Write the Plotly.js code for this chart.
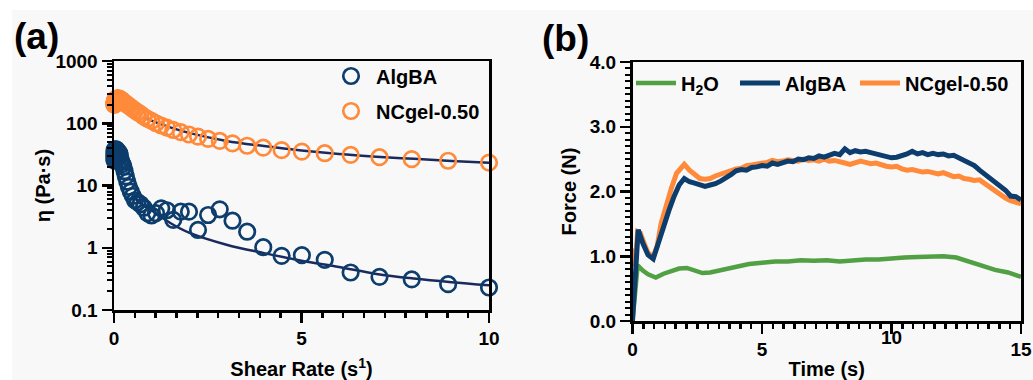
<!DOCTYPE html>
<html>
<head>
<meta charset="utf-8">
<script src="https://cdn.plot.ly/plotly-3.0.1.min.js"></script>
<style>html,body{margin:0;padding:0;background:#f8f8f8;}#chart{width:1033px;height:380px;}</style>
</head>
<body>
<div id="chart"></div>
<script>
// ---------- Panel (a): viscosity vs shear rate ----------
const shearRate = [0.01,0.0112,0.0126,0.0141,0.0158,0.0178,0.02,0.0224,0.0251,0.0282,0.0316,0.0355,0.0398,0.0447,0.0501,0.0562,0.0631,0.0708,0.0794,0.0891,
  0.1,0.112,0.126,0.141,0.158,0.178,0.2,0.224,0.251,0.282,0.316,0.355,0.398,0.447,0.501,0.562,0.631,0.708,0.794,0.891,
  1.0,1.12,1.26,1.41,1.58,1.78,2.0,2.24,2.51,2.82,3.16,3.55,3.98,4.47,5.01,5.62,6.31,7.08,7.94,8.91,10.0];
const etaAlgBA = [30,26,34,28,37,32,25,35,30,38,27,33,36,29,34,31,38,26,33,36,
  30,35,28,33,30,26,24,22,20,17,14,11.5,9.5,8.0,6.8,5.8,5.4,5.0,4.4,3.6,
  3.3,3.6,4.3,4.0,2.8,3.8,3.8,1.93,3.36,4.14,2.72,1.81,1.02,0.74,0.76,0.64,0.40,0.34,0.31,0.26,0.23];
const etaNCgel = [200,205,198,210,215,208,220,225,218,230,235,228,238,242,236,245,248,244,250,248,
  250,252,250,248,245,240,236,228,221,214,207,198,190,180,170,160,150,140,128,118,
  109,100,92,85,78,72,66,61,56,52,47.5,43.5,40.5,37,35,33,31,28.5,26.5,25,23.3];
const fitRateAlgBA = [0.5,0.7,1.0,1.5,2.0,3.0,4.0,5.0,6.0,7.0,8.0,9.0,10.0];
const fitEtaAlgBA  = [7.0,5.2,4.0,2.5,1.75,1.12,0.82,0.62,0.49,0.38,0.32,0.28,0.25];
const fitRateNCgel = [0.8,1.0,1.5,2.0,3.0,4.0,5.0,6.0,7.0,8.0,9.0,10.0];
const fitEtaNCgel  = [125,110,86,70,52,43,36.5,32,29,26.8,24.8,23.3];
const xTicksA = [0,5,10];
const yTicksA = [0.1,1,10,100,1000];
const yTickTextA = ['0.1','1','10','100','1000'];

// ---------- Panel (b): force vs time ----------
const timeH2O = [0,0.1,0.2,0.4,0.6,0.9,1.2,1.5,1.8,2.1,2.4,2.7,3.0,3.5,4.0,4.5,5.0,5.5,6.0,6.5,7.0,7.5,8.0,8.5,9.0,9.5,10.0,10.5,11.0,11.5,12.0,12.5,13.0,13.5,14.0,14.5,15.0];
const forceH2O = [0,0.5,0.86,0.78,0.72,0.67,0.73,0.77,0.81,0.82,0.78,0.74,0.75,0.79,0.84,0.88,0.9,0.92,0.92,0.94,0.93,0.94,0.92,0.94,0.95,0.95,0.97,0.98,0.99,0.99,1.0,0.98,0.92,0.85,0.79,0.75,0.68];
const timeAlgBA = [0,0.05,0.15,0.22,0.4,0.6,0.8,1.0,1.2,1.4,1.6,1.8,2.0,
  2.2,2.4,2.6,2.8,3.0,3.2,3.4,3.6,3.8,4.0,4.2,4.4,4.6,4.8,5.0,5.2,5.4,5.6,5.8,6.0,6.2,6.4,6.6,6.8,7.0,7.2,7.4,7.6,7.8,8.0,
  8.2,8.4,8.6,8.8,9.0,9.2,9.4,9.6,9.8,10.0,10.2,10.4,10.6,10.8,11.0,11.2,11.4,11.6,11.8,12.0,12.2,12.4,12.6,12.8,13.0,
  13.2,13.4,13.6,13.8,14.0,14.2,14.4,14.6,14.8,15.0];
const forceAlgBA = [0,0.4,1.2,1.41,1.2,1.02,0.96,1.22,1.5,1.7,1.92,2.1,2.2,
  2.15,2.13,2.1,2.08,2.1,2.12,2.16,2.2,2.26,2.32,2.34,2.33,2.37,2.38,2.4,2.39,2.44,2.42,2.45,2.47,2.46,2.5,2.49,2.52,2.51,2.55,2.53,2.57,2.59,2.57,
  2.66,2.6,2.63,2.61,2.62,2.6,2.58,2.57,2.54,2.52,2.53,2.55,2.58,2.62,2.58,2.6,2.57,2.59,2.57,2.58,2.55,2.56,2.52,2.49,2.45,
  2.4,2.33,2.27,2.2,2.15,2.1,2.02,1.93,1.92,1.87];
const timeNCgel = [0.03,0.1,0.2,0.3,0.45,0.6,0.8,0.95,1.1,1.3,1.5,1.7,1.9,2.0,
  2.2,2.4,2.6,2.8,3.0,3.2,3.4,3.6,3.8,4.0,4.2,4.4,4.6,4.8,5.0,5.2,5.4,5.6,5.8,6.0,6.2,6.4,6.6,6.8,7.0,7.2,7.4,7.6,7.8,8.0,
  8.2,8.4,8.6,8.8,9.0,9.2,9.4,9.6,9.8,10.0,10.2,10.4,10.6,10.8,11.0,11.2,11.4,11.6,11.8,12.0,12.2,12.4,12.6,12.8,13.0,
  13.2,13.4,13.6,13.8,14.0,14.2,14.4,14.6,14.8,15.0];
const forceNCgel = [1.12,0.85,1.38,1.36,1.2,1.05,1.0,1.15,1.5,1.8,2.05,2.28,2.37,2.42,
  2.33,2.26,2.2,2.19,2.2,2.24,2.27,2.29,2.32,2.35,2.36,2.4,2.41,2.42,2.44,2.45,2.48,2.46,2.47,2.49,2.48,2.47,2.5,2.48,2.49,2.47,2.5,2.47,2.48,2.45,
  2.44,2.42,2.44,2.47,2.45,2.43,2.44,2.41,2.39,2.38,2.39,2.35,2.33,2.34,2.31,2.3,2.31,2.28,2.27,2.29,2.25,2.23,2.24,2.2,2.19,
  2.17,2.18,2.12,2.06,2.0,1.95,1.9,1.86,1.83,1.81];
const xTicksB = [0,5,10,15];
const xTickTextB = ['0','5','','15'];
const yTicksB = [0,1,2,3,4];
const yTickTextB = ['0.0','1.0','2.0','3.0','4.0'];

// ---------- styling ----------
const W = 1033, H = 380;
const BLUE = '#0c3d6c', ORANGE = '#ff8a3a', GREEN = '#51a043', FIT = '#1b2a5c';
const FONT = 'Liberation Sans, Arial, Helvetica, sans-serif';

const traces = [
  {x: fitRateNCgel, y: fitEtaNCgel, xaxis:'x', yaxis:'y', mode:'lines', line:{color:FIT, width:2.5, shape:'spline'}, showlegend:false, hoverinfo:'skip'},
  {x: fitRateAlgBA, y: fitEtaAlgBA, xaxis:'x', yaxis:'y', mode:'lines', line:{color:FIT, width:2.5, shape:'spline'}, showlegend:false, hoverinfo:'skip'},
  {x: shearRate, y: etaAlgBA, xaxis:'x', yaxis:'y', mode:'markers', name:'AlgBA', legend:'legend', cliponaxis:false,
   marker:{symbol:'circle-open', size:15.5, color:BLUE, line:{width:2.7, color:BLUE}}},
  {x: shearRate, y: etaNCgel, xaxis:'x', yaxis:'y', mode:'markers', name:'NCgel-0.50', legend:'legend2', cliponaxis:false,
   marker:{symbol:'circle-open', size:15.5, color:ORANGE, line:{width:2.7, color:ORANGE}}},
  {x: timeH2O, y: forceH2O, xaxis:'x2', yaxis:'y2', mode:'lines', name:'H<sub>2</sub>O', legend:'legend3', line:{color:GREEN, width:4.5}},
  {x: timeNCgel, y: forceNCgel, xaxis:'x2', yaxis:'y2', mode:'lines', name:'NCgel-0.50', legend:'legend5', line:{color:ORANGE, width:5}},
  {x: timeAlgBA, y: forceAlgBA, xaxis:'x2', yaxis:'y2', mode:'lines', name:'AlgBA', legend:'legend4', line:{color:BLUE, width:5}}
];

const axisCommon = {
  showline:true, linecolor:'#000', linewidth:2.5, mirror:true,
  ticks:'outside', ticklen:10, tickwidth:2.5, tickcolor:'#000',
  showgrid:false, zeroline:false,
  tickfont:{family:FONT, size:19, color:'#000', weight:700}
};
const legendCommon = {bgcolor:'rgba(0,0,0,0)', borderwidth:0, xanchor:'left', yanchor:'middle', itemwidth:40,
  font:{family:FONT, size:20, color:'#000', weight:700}};

const layout = {
  width:W, height:H,
  margin:{l:0, r:0, t:0, b:0},
  paper_bgcolor:'#f8f8f8', plot_bgcolor:'rgba(0,0,0,0)',
  font:{family:FONT, size:19, color:'#000', weight:700},
  xaxis: Object.assign({}, axisCommon, {
    domain:[114/W, 489/W], range:[0,10], anchor:'y',
    tickmode:'array', tickvals:xTicksA,
    minor:{dtick:5/9, tick0:0, ticks:'outside', ticklen:5, tickwidth:2.5, tickcolor:'#000', showgrid:false},
    title:{text:'Shear Rate (s<sup>1</sup>)', font:{family:FONT, size:20, color:'#000', weight:700}, standoff:19}
  }),
  yaxis: Object.assign({}, axisCommon, {
    domain:[70/H, 319/H], type:'log', range:[-1,3], anchor:'x',
    tickmode:'array', tickvals:yTicksA, ticktext:yTickTextA,
    minor:{dtick:'D1', ticks:'outside', ticklen:5, tickwidth:2, tickcolor:'#000', showgrid:false},
    title:{text:'η (Pa·s)', font:{family:FONT, size:20, color:'#000', weight:700}, standoff:0}
  }),
  xaxis2: Object.assign({}, axisCommon, {
    domain:[632.5/W, 1021/W], range:[0,15], anchor:'y2',
    tickmode:'array', tickvals:xTicksB, ticktext:xTickTextB,
    minor:{dtick:5/12, tick0:0, ticks:'outside', ticklen:5, tickwidth:2.5, tickcolor:'#000', showgrid:false},
    title:{text:'Time (s)', font:{family:FONT, size:20, color:'#000', weight:700}, standoff:3}
  }),
  yaxis2: Object.assign({}, axisCommon, {
    domain:[59/H, 318/H], range:[0,4], anchor:'x2',
    tickmode:'array', tickvals:yTicksB, ticktext:yTickTextB,
    minor:{dtick:0.1, tick0:0, ticks:'outside', ticklen:5, tickwidth:2, tickcolor:'#000', showgrid:false},
    title:{text:'Force (N)', font:{family:FONT, size:20, color:'#000', weight:700}, standoff:8}
  }),
  legend:  Object.assign({}, legendCommon, {x:326/W, y:1-76/H}),
  legend2: Object.assign({}, legendCommon, {x:326/W, y:1-111/H}),
  legend3: Object.assign({}, legendCommon, {x:631/W, y:1-83/H}),
  legend4: Object.assign({}, legendCommon, {x:735/W, y:1-83/H}),
  legend5: Object.assign({}, legendCommon, {x:855/W, y:1-83/H}),
  shapes:[
    {type:'rect', xref:'paper', yref:'paper', x0:0, x1:1, y0:1-10/H, y1:1, fillcolor:'#ffffff', line:{width:0}, layer:'below'},
    {type:'rect', xref:'paper', yref:'paper', x0:0, x1:12/W, y0:0, y1:1, fillcolor:'#ffffff', line:{width:0}, layer:'below'}
  ],
  annotations:[
    {text:'(a)', xref:'paper', yref:'paper', x:36/W, y:1-37/H, xanchor:'center', yanchor:'middle', showarrow:false,
     font:{family:FONT, size:37, color:'#000', weight:700}},
    {text:'(b)', xref:'paper', yref:'paper', x:565/W, y:1-39/H, xanchor:'center', yanchor:'middle', showarrow:false,
     font:{family:FONT, size:37, color:'#000', weight:700}},
    {text:'10', xref:'x2', yref:'paper', x:xTicksB[2], y:1-337.5/H, xanchor:'center', yanchor:'middle', showarrow:false,
     font:{family:FONT, size:19, color:'#000', weight:700}}
  ]
};

Plotly.newPlot('chart', traces, layout, {displayModeBar:false, staticPlot:true});
</script>
</body>
</html>
